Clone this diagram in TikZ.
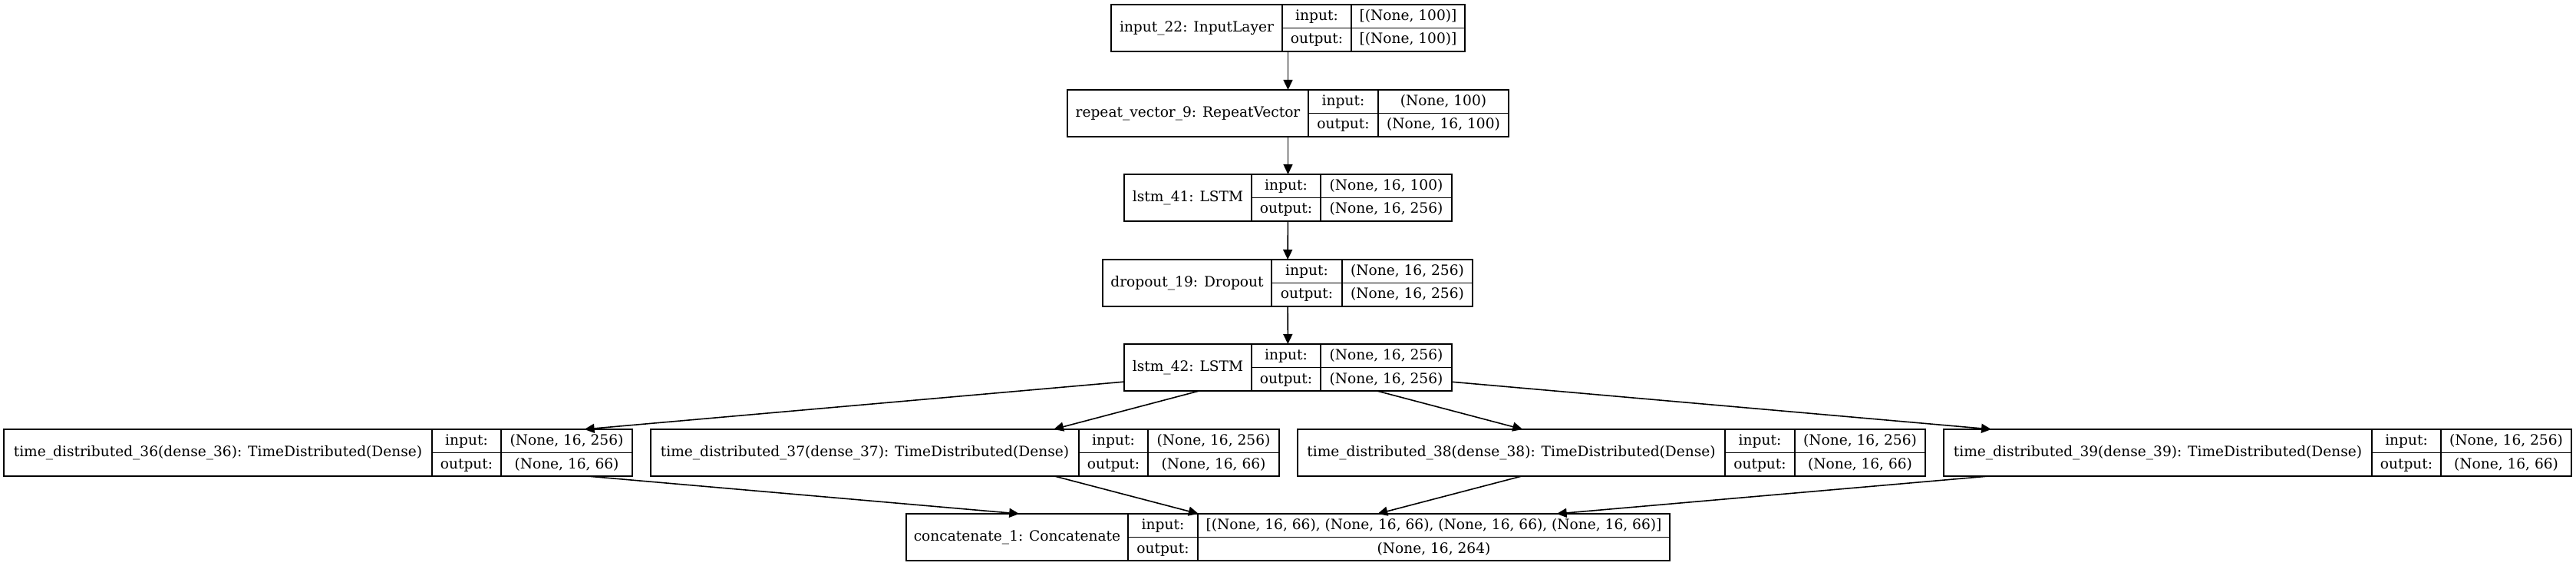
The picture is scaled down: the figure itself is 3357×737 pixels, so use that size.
\documentclass[tikz,border=0pt]{standalone}
\usepackage{fontspec}
\setmainfont{DejaVu Serif}
\usetikzlibrary{arrows.meta,fit}
\tikzset{
  recbox/.style={draw=black, line width=0.8pt, inner sep=0pt, outer sep=0pt},
  recline/.style={draw=black, line width=0.8pt},
  rectext/.style={inner sep=0pt, text height=0.72em, text depth=0.22em, font=\fontsize{9.3pt}{11pt}\selectfont},
  edge/.style={draw=black, line width=0.8pt, -{Triangle[length=6.5pt,width=6pt]}}
}
% #1 name, #2 x1, #3 d1, #4 d2, #5 x2, #6 ytop, #7 label, #8 input, #9 output
\newcommand{\kerasrec}[9]{%
  \coordinate (#1-tl) at (#2,#6);
  \coordinate (#1-br) at (#5,{#6+61});
  \node[recbox, fit=(#1-tl)(#1-br)] (#1) {};
  \draw[recline] (#3,#6) -- (#3,{#6+61});
  \draw[recline] (#4,#6) -- (#4,{#6+61});
  \draw[recline] (#3,{#6+30.5}) -- (#5,{#6+30.5});
  \node[rectext] (#1-lab) at ({(#2+#3)/2},{#6+30.5}) {#7};
  \node[rectext] (#1-ik) at ({(#3+#4)/2},{#6+15.5}) {input:};
  \node[rectext] (#1-ok) at ({(#3+#4)/2},{#6+46}) {output:};
  \node[rectext] (#1-iv) at ({(#4+#5)/2},{#6+15.5}) {#8};
  \node[rectext] (#1-ov) at ({(#4+#5)/2},{#6+46}) {#9};
}
\begin{document}
\begin{tikzpicture}[x=0.5pt, y=-0.5pt]
\useasboundingbox[fill=white] (0,0) rectangle (3357,737);
\kerasrec{in22}{1448}{1671}{1761}{1909}{6}{input\_22: InputLayer}{[(None, 100)]}{[(None, 100)]}
\kerasrec{rv9}{1391}{1705}{1796}{1966}{117}{repeat\_vector\_9: RepeatVector}{(None, 100)}{(None, 16, 100)}
\kerasrec{lstm41}{1465}{1631}{1721}{1892}{227}{lstm\_41: LSTM}{(None, 16, 100)}{(None, 16, 256)}
\kerasrec{drop19}{1437}{1657}{1749}{1919}{338}{dropout\_19: Dropout}{(None, 16, 256)}{(None, 16, 256)}
\kerasrec{lstm42}{1465}{1631}{1721}{1892}{448}{lstm\_42: LSTM}{(None, 16, 256)}{(None, 16, 256)}
\kerasrec{td36}{5}{563}{653}{824}{559}{time\_distributed\_36(dense\_36): TimeDistributed(Dense)}{(None, 16, 256)}{(None, 16, 66)}
\kerasrec{td37}{848}{1406}{1496}{1667}{559}{time\_distributed\_37(dense\_37): TimeDistributed(Dense)}{(None, 16, 256)}{(None, 16, 66)}
\kerasrec{td38}{1691}{2248}{2339}{2509}{559}{time\_distributed\_38(dense\_38): TimeDistributed(Dense)}{(None, 16, 256)}{(None, 16, 66)}
\kerasrec{td39}{2533}{3091}{3181}{3351}{559}{time\_distributed\_39(dense\_39): TimeDistributed(Dense)}{(None, 16, 256)}{(None, 16, 66)}
\kerasrec{cat1}{1181}{1470}{1561}{2176}{669}{concatenate\_1: Concatenate}{[(None, 16, 66), (None, 16, 66), (None, 16, 66), (None, 16, 66)]}{(None, 16, 264)}
\draw[edge] (in22) -- (rv9);
\draw[edge] (rv9) -- (lstm41);
\draw[edge] (lstm41) -- (drop19);
\draw[edge] (drop19) -- (lstm42);
\draw[edge] (lstm42) -- (td36);
\draw[edge] (lstm42) -- (td37);
\draw[edge] (lstm42) -- (td38);
\draw[edge] (lstm42) -- (td39);
\draw[edge] (td36) -- (cat1);
\draw[edge] (td37) -- (cat1);
\draw[edge] (td38) -- (cat1);
\draw[edge] (td39) -- (cat1);
\end{tikzpicture}
\end{document}
